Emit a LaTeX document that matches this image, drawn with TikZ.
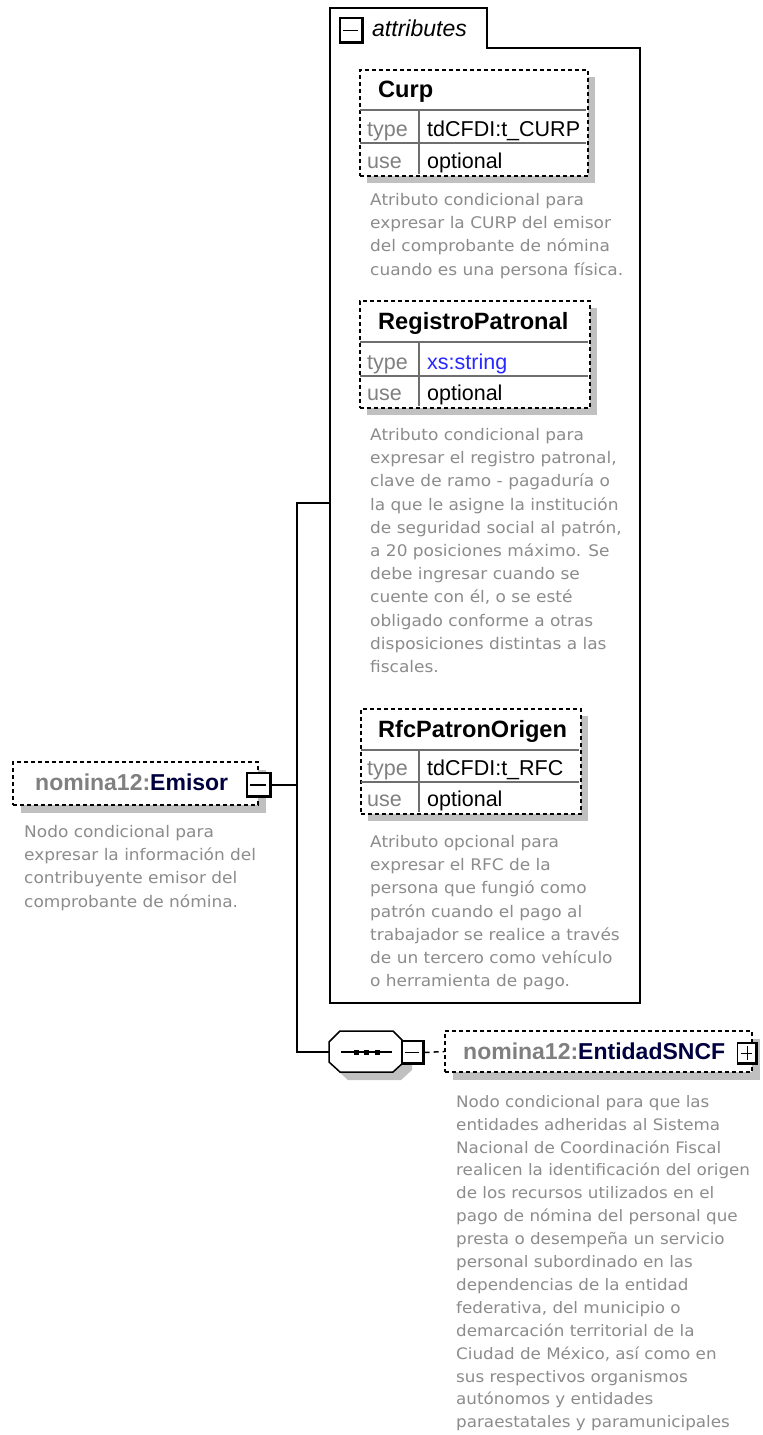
\documentclass[tikz,border=0pt]{standalone}
\usepackage{fontspec}
\setmainfont{Liberation Sans}
\newfontfamily\descfont[FakeStretch=1.06]{DejaVu Sans}
\usetikzlibrary{calc}
\definecolor{desc}{RGB}{140,140,140}
\definecolor{shadowgray}{RGB}{192,192,192}
\definecolor{labgray}{RGB}{128,128,128}
\definecolor{navy}{RGB}{0,0,64}
\definecolor{xsblue}{RGB}{40,40,255}
\definecolor{sepc}{RGB}{110,110,110}
\tikzset{
 desctext/.style={anchor=north west, inner sep=0pt, align=left, text=desc, font=\descfont\fontsize{16}{23.2}\selectfont},
 titletext/.style={anchor=base west, inner sep=0pt, font=\bfseries\fontsize{23}{26}\selectfont},
 tabtitle/.style={titletext, font=\bfseries\fontsize{23.6}{26}\selectfont},
 valtext/.style={anchor=base west, inner sep=0pt, font=\fontsize{21.5}{24}\selectfont},
 labtext/.style={valtext, text=labgray},
 dashbox/.style={draw=black, line width=1.5pt, dash pattern=on 4pt off 3pt, fill=white},
 sepline/.style={draw=sepc, line width=1.2pt},
 conn/.style={draw=black, line width=1.8pt},
 frame/.style={draw=black, line width=2pt},
 iconbox/.style={draw=black, fill=white, line width=1.3pt, inner sep=0pt},
 shadowfill/.style={fill=shadowgray, draw=none},
}
\newcommand\xicon[5]{%
  \node[iconbox, minimum width=#4pt, minimum height=#5pt] (#1) at (#2,#3) {};
  \draw[line width=3pt] ([xshift=-1.5pt]#1.north east) -- ([xshift=-1.5pt,yshift=1.5pt]#1.south east) -- ([yshift=1.5pt]#1.south west);
  \draw[line width=1.5pt] ([xshift=4pt]#1.west) -- ([xshift=-6pt]#1.east);
}
\newcommand\attrtable[9]{%
  \path[shadowfill] (#2+8,#3+8) rectangle (#4+8,#5+8);
  \node[dashbox, anchor=north west, inner sep=0pt, minimum width={(#4-#2)*1pt}, minimum height={(#5-#3)*1pt}] (#1) at (#2,#3) {};
  \draw[sepline] (#2+1,#6) -- (#4-1,#6);
  \draw[sepline] (#2+1,#7) -- (#4-1,#7);
  \draw[sepline] (419,#6) -- (419,#5-1);
  \node[tabtitle] (#1-title) at (378,#6-13) {#8};
  \node[labtext] (#1-tl) at (367,#7-7) {type};
  \node[valtext] (#1-tv) at (427,#7-7) {#9};
  \node[labtext] (#1-ul) at (367,#5-7) {use};
  \node[valtext] (#1-uv) at (427,#5-7) {optional};
}
\begin{document}
\begin{tikzpicture}[x=1pt,y=-1pt]
\useasboundingbox (0,0) rectangle (763,1435);
\fill[white] (0,0) rectangle (763,1435);

% attributes frame
\draw[frame, fill=white] (330,1003) -- (330,8) -- (487,8) -- (487,48) -- (640,48) -- (640,1003) -- cycle;
\xicon{attricon}{351.5}{30.5}{23}{25}
\node[anchor=base west, inner sep=0pt, font=\itshape\fontsize{23}{26}\selectfont] (attrlbl) at (372,36) {attributes};

% attribute tables
\attrtable{curp}{359}{69}{587}{175}{110}{143}{Curp}{tdCFDI:t\_CURP}
\node[desctext] (curpdesc) at (370,189) {\strut Atributo condicional para\\expresar la CURP del emisor\\del comprobante de nómina\\cuando es una persona física.};

\attrtable{reg}{359}{300}{589}{407}{342}{376}{RegistroPatronal}{\textcolor{xsblue}{xs:string}}
\node[desctext] (regdesc) at (370,424) {\strut Atributo condicional para\\expresar el registro patronal,\\clave de ramo - pagaduría o\\la que le asigne la institución\\de seguridad social al patrón,\\a 20 posiciones máximo. Se\\debe ingresar cuando se\\cuente con él, o se esté\\obligado conforme a otras\\disposiciones distintas a las\\fiscales.};

\attrtable{rfc}{360}{708}{580}{813}{750}{782}{RfcPatronOrigen}{tdCFDI:t\_RFC}
\node[desctext] (rfcdesc) at (370,831) {\strut Atributo opcional para\\expresar el RFC de la\\persona que fungió como\\patrón cuando el pago al\\trabajador se realice a través\\de un tercero como vehículo\\o herramienta de pago.};

% Emisor element
\path[shadowfill] (21,770) rectangle (266,813);
\node[dashbox, minimum width=245pt, minimum height=43pt, inner sep=0pt] (emisor) at (135.5,783.5) {};
\node[titletext, text=labgray] (emisorlbl) at (35,790) {nomina12:\textcolor{navy}{Emisor}};
\xicon{emisoricon}{259}{785}{24}{24}
\node[desctext] (emisordesc) at (24,821) {\strut Nodo condicional para\\expresar la información del\\contribuyente emisor del\\comprobante de nómina.};

% spine connectors
\coordinate (spineTop) at (297,503);
\coordinate (spineBot) at (297,1052);
\coordinate (attrsW) at (330,503);
\coordinate (seqW) at (329,1052);
\draw[conn] (emisoricon.east) -- (emisoricon.east -| spineTop);
\draw[conn] (attrsW) -- (spineTop) -- (spineBot) -- (seqW);

% sequence compositor
\path[shadowfill] (348,1039) -- (401,1039) -- (412,1050) -- (412,1070) -- (401,1080) -- (348,1080) -- (337,1070) -- (337,1050) -- cycle;
\draw[line width=1.5pt, fill=white] (340,1031) -- (393,1031) -- (404,1042) -- (404,1062) -- (393,1072) -- (340,1072) -- (329,1062) -- (329,1042) -- cycle;
\draw[line width=1.5pt] (341,1052) -- (392,1052);
\fill (353.5,1049.5) rectangle (358.5,1054.5);
\fill (363.5,1049.5) rectangle (368.5,1054.5);
\fill (374.5,1049.5) rectangle (379.5,1054.5);
\xicon{seqicon}{413}{1052.5}{22}{23}

% EntidadSNCF element
\path[shadowfill] (453,1039) rectangle (760,1080);
\node[dashbox, minimum width=307pt, minimum height=41pt, inner sep=0pt] (entidad) at (598.5,1051.5) {};
\node[titletext, text=labgray] (entidadlbl) at (463,1059) {nomina12:\textcolor{navy}{EntidadSNCF}};
\xicon{entidadicon}{747.5}{1053.5}{20}{21}
\draw[line width=1.5pt] (entidadicon.north) ++(0,4) -- ([yshift=5pt]entidadicon.south);
\draw[line width=1.5pt, dash pattern=on 5pt off 4pt] (seqicon.east) -- (entidad.west);
\node[desctext, font=\descfont\fontsize{15.8}{22.9}\selectfont] (entidaddesc) at (456,1091) {\strut Nodo condicional para que las\\entidades adheridas al Sistema\\Nacional de Coordinación Fiscal\\realicen la identificación del origen\\de los recursos utilizados en el\\pago de nómina del personal que\\presta o desempeña un servicio\\personal subordinado en las\\dependencias de la entidad\\federativa, del municipio o\\demarcación territorial de la\\Ciudad de México, así como en\\sus respectivos organismos\\autónomos y entidades\\paraestatales y paramunicipales};
\end{tikzpicture}
\end{document}
